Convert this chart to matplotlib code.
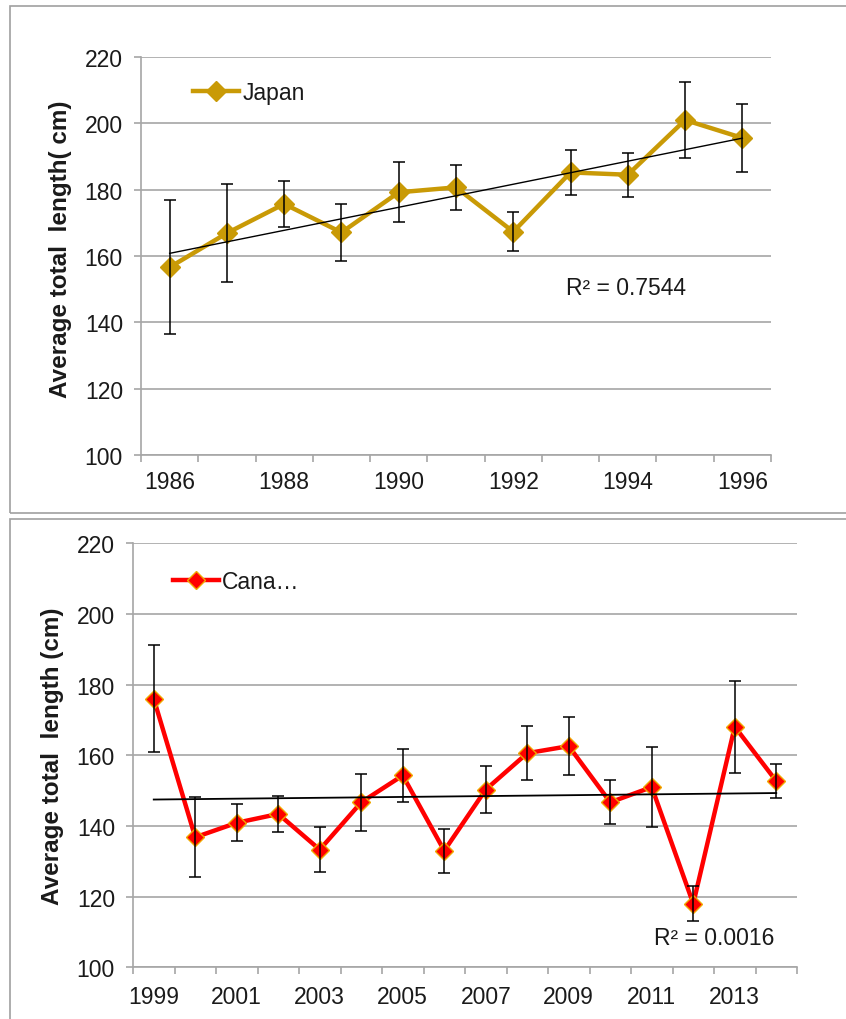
import numpy as np
import matplotlib.pyplot as plt
from matplotlib.patches import Rectangle

plt.rcParams['font.family'] = ['Liberation Sans', 'DejaVu Sans']

# Japan, mean total length per year with error bars
japan_years = ['1986', '1987', '1988', '1989', '1990', '1991',
               '1992', '1993', '1994', '1995', '1996']
japan_mean = [156.6, 166.9, 175.7, 167.1, 179.2, 180.7, 167.3, 185.2, 184.5, 201.0, 195.6]
japan_err = [20.2, 14.7, 6.9, 8.6, 9.0, 6.8, 5.9, 6.8, 6.7, 11.5, 10.3]

# Canada, mean total length per year with error bars
canada_years = ['1999', '2000', '2001', '2002', '2003', '2004', '2005', '2006',
                '2007', '2008', '2009', '2010', '2011', '2012', '2013', '2014']
canada_mean = [176.0, 136.8, 140.9, 143.4, 133.3, 146.7, 154.3, 133.0,
               150.3, 160.6, 162.6, 146.7, 151.0, 118.0, 168.1, 152.7]
canada_err = [15.2, 11.3, 5.2, 5.0, 6.3, 8.1, 7.5, 6.2,
              6.7, 7.6, 8.1, 6.2, 11.4, 4.9, 13.0, 4.7]

y_ticks = [100, 120, 140, 160, 180, 200, 220]

GRID = '#a6a6a6'
TXT = '#1a1a1a'


def draw_panel(ax, years, mean, err, color, edge, label, ylabel, r2_text, r2_xy,
               leg_anchor, ms, xpad, trend_lw):
    x = np.arange(len(years))

    ax.plot(x, mean, color=color, lw=3.2, marker='D', ms=ms,
            mfc=color, mec=edge, mew=1.0, label=label, zorder=3)
    ax.errorbar(x, mean, yerr=err, fmt='none', ecolor='black',
                elinewidth=1.1, capsize=4.5, capthick=1.1, zorder=4)

    # linear trend between first and last year
    slope, icpt = np.polyfit(x, mean, 1)
    ax.plot([x[0], x[-1]], [icpt + slope * x[0], icpt + slope * x[-1]],
            color='black', lw=trend_lw, zorder=5)

    ax.set_xlim(-0.5, len(years) - 0.5)
    ax.set_ylim(100, 220)
    ax.set_yticks(y_ticks)
    ax.yaxis.grid(True, color=GRID, lw=1.2)
    ax.set_axisbelow(True)

    ax.set_xticks(x[::2])
    ax.set_xticklabels(years[::2])
    ax.set_xticks(np.arange(-0.5, len(years)), minor=True)
    ax.tick_params(axis='x', which='major', length=0, pad=xpad,
                   labelsize=16.5, labelcolor=TXT)
    ax.tick_params(axis='x', which='minor', length=5, width=1.2, color=GRID)
    ax.tick_params(axis='y', length=5, width=1.2, color=GRID, pad=8,
                   labelsize=16.5, labelcolor=TXT)

    for s in ['top', 'right']:
        ax.spines[s].set_visible(False)
    for s in ['left', 'bottom']:
        ax.spines[s].set_color(GRID)
        ax.spines[s].set_linewidth(1.2)

    ax.set_ylabel(ylabel, fontsize=17.5, fontweight='bold', color=TXT, labelpad=9)
    ax.text(r2_xy[0], r2_xy[1], r2_text, fontsize=16.5, color=TXT,
            ha='center', va='center')
    ax.legend(loc='center left', bbox_to_anchor=leg_anchor, frameon=False,
              fontsize=16.5, handlelength=2.0, handletextpad=0.15,
              borderpad=0, borderaxespad=0, labelcolor=TXT)


fig = plt.figure(figsize=(8.46, 10.2), dpi=100)

# panel frames
fig.patches.append(Rectangle((10 / 846, 1 - 514 / 1020), 0.999, 507 / 1020,
                             transform=fig.transFigure, fill=False,
                             ec='#a0a0a0', lw=1.2))
fig.patches.append(Rectangle((10 / 846, -0.01), 0.999, 1 - 520 / 1020 + 0.01,
                             transform=fig.transFigure, fill=False,
                             ec='#a0a0a0', lw=1.2))

ax1 = fig.add_axes([141 / 846, 1 - 456 / 1020, 630 / 846, 398 / 1020])
draw_panel(ax1, japan_years, japan_mean, japan_err, '#c99a06', '#c99a06',
           'Japan', 'Average total  length( cm)', 'R² = 0.7544', (7.96, 150.6),
           (0.0825, 0.912), 10, 11, 1.0)
ax1.yaxis.set_label_coords(-0.11, 0.52)

ax2 = fig.add_axes([133 / 846, 1 - 968.3 / 1020, 664 / 846, 424 / 1020])
draw_panel(ax2, canada_years, canada_mean, canada_err, '#ff0000', '#f0a800',
           'Cana…', 'Average total  length (cm)', 'R² = 0.0016', (13.5, 108.3),
           (0.0602, 0.909), 9, 13, 1.3)

fig.savefig('out.png', dpi=100)
